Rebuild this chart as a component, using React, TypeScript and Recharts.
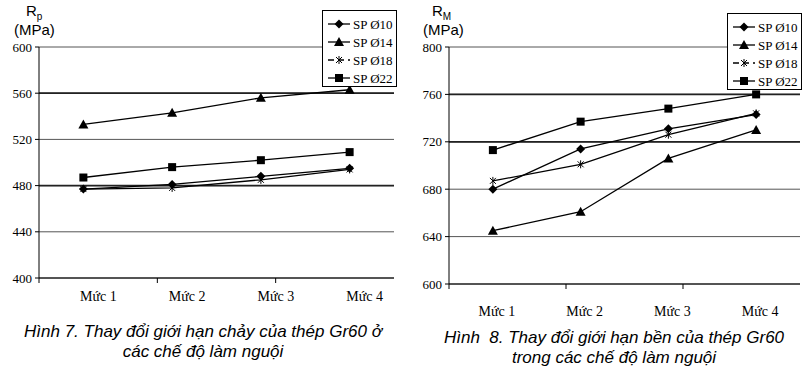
import React from 'react';
import { LineChart, Line, XAxis, YAxis, CartesianGrid, Legend, ReferenceLine } from 'recharts';

const categories = ['Mức 1', 'Mức 2', 'Mức 3', 'Mức 4'];
const seriesNames = ['SP Ø10', 'SP Ø14', 'SP Ø18', 'SP Ø22'];
const markerShapes = ['diamond', 'triangle', 'star', 'square'];

// Hinh 7 - gioi han chay Rp (MPa)
const rp10 = [477, 481, 488, 495];
const rp14 = [533, 543, 556, 563];
const rp18 = [477, 478, 485, 494];
const rp22 = [487, 496, 502, 509];
const rpTicks = [400, 440, 480, 520, 560, 600];
const rpBold = [560, 480];

// Hinh 8 - gioi han ben RM (MPa)
const rm10 = [680, 714, 731, 743];
const rm14 = [645, 661, 706, 730];
const rm18 = [687, 701, 726, 744];
const rm22 = [713, 737, 748, 760];
const rmTicks = [600, 640, 680, 720, 760, 800];
const rmBold = [760, 720];

const boundaryTicks = [0, 1, 2, 3, 4];

const buildRows = (series: number[][]) =>
  categories.map((name, i) => {
    const row: Record<string, any> = { name };
    series.forEach((s, k) => {
      row[seriesNames[k]] = s[i];
    });
    return row;
  });

const rpData = buildRows([rp10, rp14, rp18, rp22]);
const rmData = buildRows([rm10, rm14, rm18, rm22]);

const Marker = ({ cx, cy, shape }: any) => {
  if (cx == null || cy == null) return null;
  switch (shape) {
    case 'diamond':
      return <polygon points={`${cx},${cy - 4.5} ${cx + 4.5},${cy} ${cx},${cy + 4.5} ${cx - 4.5},${cy}`} fill="#000" />;
    case 'triangle':
      return <polygon points={`${cx},${cy - 5} ${cx + 5},${cy + 4} ${cx - 5},${cy + 4}`} fill="#000" />;
    case 'square':
      return <rect x={cx - 4} y={cy - 4} width={8} height={8} fill="#000" />;
    default:
      return (
        <g stroke="#000" strokeWidth={1}>
          <line x1={cx - 3} y1={cy - 3} x2={cx + 3} y2={cy + 3} />
          <line x1={cx - 3} y1={cy + 3} x2={cx + 3} y2={cy - 3} />
          <line x1={cx} y1={cy - 4} x2={cx} y2={cy + 4} />
        </g>
      );
  }
};

const LegendBox = ({ payload }: any) => (
  <div style={{ width: 75, height: 77, border: '1px solid #000', background: '#fff', boxSizing: 'border-box' }}>
    <svg width={73} height={75} style={{ display: 'block' }}>
      {(payload || []).map((p: any, i: number) => {
        const y = 13 + i * 18;
        return (
          <g key={p.value}>
            <line x1={5} x2={27} y1={y} y2={y} stroke="#000" strokeWidth={1.3} strokeDasharray={markerShapes[i] === 'star' ? '6 4' : undefined} />
            <Marker cx={16} cy={y} shape={markerShapes[i]} />
            <text x={30} y={y} dy="0.35em" fontSize={13} fontFamily="Liberation Serif" fill="#000">
              {p.value}
            </text>
          </g>
        );
      })}
    </svg>
  </div>
);

const CatTick = ({ x, y, payload, shift }: any) => (
  <text x={x + shift} y={y} dy="0.71em" textAnchor="middle" fontSize={14} fontFamily="Liberation Serif" fill="#000">
    {payload.value}
  </text>
);

const NoLabel = () => null;

interface PanelProps {
  data: Record<string, any>[];
  ticks: number[];
  bold: number[];
  width: number;
  height: number;
  yAxisWidth: number;
  right: number;
  bottom: number;
  labelShift: number;
  labelGap: number;
  legendLeft: number;
  legendTop: number;
}

const Panel: React.FC<PanelProps> = (p) => (
  <LineChart width={p.width} height={p.height} data={p.data} margin={{ top: 47, right: p.right, left: 0, bottom: p.bottom }}>
    <CartesianGrid vertical={false} stroke="#555" xAxisId="c" />
    <XAxis
      xAxisId="b"
      type="number"
      domain={[0, 4]}
      ticks={boundaryTicks}
      tick={<NoLabel />}
      tickSize={5}
      height={6}
      allowDataOverflow
      axisLine={{ stroke: '#000' }}
      tickLine={{ stroke: '#000' }}
    />
    <XAxis
      xAxisId="c"
      dataKey="name"
      scale="band"
      interval={0}
      axisLine={false}
      tickLine={false}
      tickSize={0}
      tickMargin={p.labelGap}
      height={30}
      tick={<CatTick shift={p.labelShift} />}
    />
    <YAxis
      domain={[p.ticks[0], p.ticks[p.ticks.length - 1]]}
      ticks={p.ticks}
      width={p.yAxisWidth}
      tickSize={4}
      tickMargin={3}
      axisLine={{ stroke: '#000' }}
      tickLine={{ stroke: '#000' }}
      tick={{ fontSize: 13, fontFamily: 'Liberation Serif', fill: '#000' }}
    />
    {p.bold.map((v) => (
      <ReferenceLine key={v} y={v} xAxisId="c" stroke="#222" strokeWidth={1.8} />
    ))}
    <Legend
      layout="horizontal"
      verticalAlign="middle"
      align="center"
      content={<LegendBox />}
      wrapperStyle={{ position: 'absolute', left: p.legendLeft, top: p.legendTop, width: 75, height: 77 }}
    />
    {seriesNames.map((name, i) => (
      <Line
        key={name}
        xAxisId="c"
        type="linear"
        dataKey={name}
        name={name}
        stroke="#000"
        strokeWidth={1.3}
        dot={(d: any) => <Marker key={`${name}-${d.index}`} cx={d.cx} cy={d.cy} shape={markerShapes[i]} />}
        activeDot={false}
        isAnimationActive={false}
      />
    ))}
  </LineChart>
);

const sans = '"Liberation Sans", Arial, sans-serif';
const title: React.CSSProperties = { position: 'absolute', fontFamily: sans, fontSize: 15, lineHeight: '16px', whiteSpace: 'nowrap' };
const caption: React.CSSProperties = {
  position: 'absolute',
  fontFamily: '"Liberation Sans", Arial, sans-serif',
  fontStyle: 'italic',
  fontSize: 17,
  lineHeight: '20px',
  textAlign: 'center',
  color: '#000',
  whiteSpace: 'nowrap',
};

export default function App() {
  return (
    <div style={{ position: 'absolute', left: 0, top: 0, width: 804, height: 371, background: '#fff', overflow: 'hidden' }}>
      <div style={{ position: 'absolute', left: 0, top: 0 }}>
        <Panel
          data={rpData}
          ticks={rpTicks}
          bold={rpBold}
          width={400}
          height={320}
          yAxisWidth={39}
          right={6}
          bottom={6}
          labelShift={15}
          labelGap={7}
          legendLeft={322}
          legendTop={10}
        />
      </div>
      <div style={{ position: 'absolute', left: 400, top: 0 }}>
        <Panel
          data={rmData}
          ticks={rmTicks}
          bold={rmBold}
          width={404}
          height={330}
          yAxisWidth={49}
          right={4}
          bottom={10}
          labelShift={4}
          labelGap={16}
          legendLeft={327}
          legendTop={13}
        />
      </div>

      <div style={{ ...title, left: 26, top: 3 }}>
        R<span style={{ fontSize: 10, position: 'relative', top: 4 }}>p</span>
      </div>
      <div style={{ ...title, left: 14, top: 22 }}>(MPa)</div>
      <div style={{ ...title, left: 432, top: 3 }}>
        R<span style={{ fontSize: 10, position: 'relative', top: 4 }}>M</span>
      </div>
      <div style={{ ...title, left: 423, top: 22 }}>(MPa)</div>

      <div style={{ ...caption, left: 0, width: 406, top: 322 }}>
        Hình 7. Thay đổi giới hạn chảy của thép Gr60 ở
        <br />
        các chế độ làm nguội
      </div>
      <div style={{ ...caption, left: 414, width: 400, top: 328 }}>
        Hình&nbsp;&nbsp;8. Thay đổi giới hạn bền của thép Gr60
        <br />
        trong các chế độ làm nguội
      </div>
    </div>
  );
}
